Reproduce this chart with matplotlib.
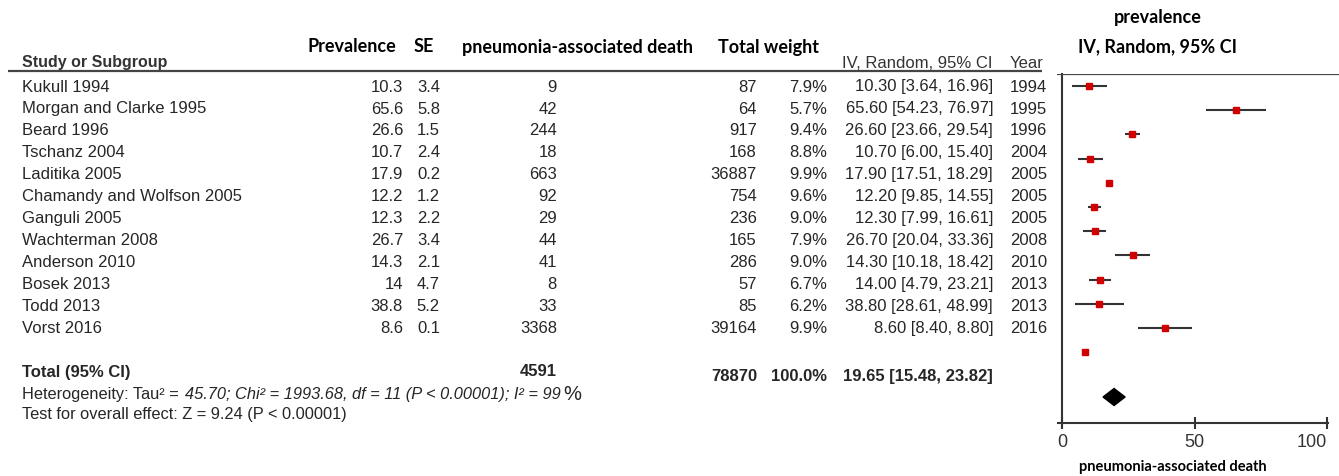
import matplotlib
matplotlib.use("Agg")
import matplotlib.pyplot as plt
from matplotlib.patches import Polygon

# ---------------- data ----------------
studies = ["Kukull 1994", "Morgan and Clarke 1995", "Beard 1996", "Tschanz 2004",
           "Laditika 2005", "Chamandy and Wolfson 2005", "Ganguli 2005",
           "Wachterman 2008", "Anderson 2010", "Bosek 2013", "Todd 2013", "Vorst 2016"]
prevalence = [10.3, 65.6, 26.6, 10.7, 17.9, 12.2, 12.3, 26.7, 14.3, 14, 38.8, 8.6]
se = [3.4, 5.8, 1.5, 2.4, 0.2, 1.2, 2.2, 3.4, 2.1, 4.7, 5.2, 0.1]
deaths = [9, 42, 244, 18, 663, 92, 29, 44, 41, 8, 33, 3368]
totals = [87, 64, 917, 168, 36887, 754, 236, 165, 286, 57, 85, 39164]
weights = [7.9, 5.7, 9.4, 8.8, 9.9, 9.6, 9.0, 7.9, 9.0, 6.7, 6.2, 9.9]
ci_low = [3.64, 54.23, 23.66, 6.00, 17.51, 9.85, 7.99, 20.04, 10.18, 4.79, 28.61, 8.40]
ci_high = [16.96, 76.97, 29.54, 15.40, 18.29, 14.55, 16.61, 33.36, 18.42, 23.21, 48.99, 8.80]
years = [1994, 1995, 1996, 2004, 2005, 2005, 2005, 2008, 2010, 2013, 2013, 2016]
total_deaths = 4591
total_n = 78870
total_weight = 100.0
pooled, pooled_low, pooled_high = 19.65, 15.48, 23.82
x_ticks = [0, 50, 100]

# ---------------- figure ----------------
W, H = 1339, 477
fig = plt.figure(figsize=(W / 100, H / 100), dpi=100)
tx = fig.add_axes([0, 0, 1, 1])
tx.set_xlim(0, W)
tx.set_ylim(H, 0)
tx.axis("off")

ROW_FONT = "Liberation Sans"
HEAD_FONT = "Lato"
txt_col = "#262626"
fs = 12

# headers
tx.text(22, 63, "Study or Subgroup", fontsize=11.5, fontweight="bold", family=ROW_FONT,
        color="#333333", va="center", ha="left")
hdr_kw = dict(fontsize=13, fontweight="bold", family=HEAD_FONT, color="black", va="center")
tx.text(352, 47, "Prevalence", ha="center", **hdr_kw)
tx.text(424, 47, "SE", ha="center", **hdr_kw)
tx.text(578, 47, "pneumonia-associated death", ha="center", **hdr_kw)
tx.text(768, 47, "Total weight", ha="center", **hdr_kw)
tx.text(917, 64, "IV, Random, 95% CI", ha="center", fontsize=12, family=ROW_FONT,
        color="#333333", va="center")
tx.text(1027, 64, "Year", ha="center", fontsize=12, family=ROW_FONT,
        color="#333333", va="center")
tx.text(1158, 18, "prevalence", ha="center", **hdr_kw)
tx.text(1158, 47, "IV, Random, 95% CI", ha="center", **hdr_kw)

# header rule
tx.plot([8, 1042], [72, 72], color="#444444", lw=1.6, solid_capstyle="butt")

# table rows
row0, dy = 87, 22.0
for i, name in enumerate(studies):
    y = row0 + dy * i
    kw = dict(fontsize=fs, family=ROW_FONT, color=txt_col, va="center")
    tx.text(22, y, name, ha="left", **kw)
    tx.text(403, y, f"{prevalence[i]:g}", ha="right", **kw)
    tx.text(440, y, f"{se[i]:g}", ha="right", **kw)
    tx.text(557, y, f"{deaths[i]}", ha="right", **kw)
    tx.text(757, y, f"{totals[i]}", ha="right", **kw)
    tx.text(827, y, f"{weights[i]:.1f}%", ha="right", **kw)
    tx.text(993, y, f"{prevalence[i]:.2f} [{ci_low[i]:.2f}, {ci_high[i]:.2f}]", ha="right", **kw)
    tx.text(1047, y, f"{years[i]}", ha="right", **kw)

# total row
bkw = dict(fontsize=12, family=ROW_FONT, fontweight="bold", color=txt_col, va="center")
tx.text(22, 373, "Total (95% CI)", ha="left", **bkw)
tx.text(557, 372, f"{total_deaths}", ha="right", **bkw)
tx.text(757, 377, f"{total_n}", ha="right", **bkw)
tx.text(827, 377, f"{total_weight:.1f}%", ha="right", **bkw)
tx.text(993, 377, f"{pooled:.2f} [{pooled_low:.2f}, {pooled_high:.2f}]", ha="right", **bkw)

# heterogeneity line built from pieces
fig.canvas.draw()
renderer = fig.canvas.get_renderer()
pieces = [("Heterogeneity: Tau² = ", "normal", 11.8),
          ("45.70; Chi² = 1993.68, df = 11 (P < 0.00001); I² = 99", "italic", 11.8),
          ("%", "normal", 14.5)]
xcur = 22
for s, style, size in pieces:
    t = tx.text(xcur, 395, s, fontsize=size, style=style, family=ROW_FONT, color=txt_col,
                va="center", ha="left")
    bb = t.get_window_extent(renderer)
    xcur += bb.width + 2
tx.text(22, 415, "Test for overall effect: Z = 9.24 (P < 0.00001)", fontsize=11.8,
        family=ROW_FONT, color=txt_col, va="center", ha="left")

# ---------------- forest plot ----------------
px_left, px_right = 1057, 1339
px_top, px_bot = 75, 424
ax = fig.add_axes([px_left / W, 1 - px_bot / H, (px_right - px_left) / W, (px_bot - px_top) / H])
ax.patch.set_alpha(0)
unit = 2.65  # px per data unit
x0_px = 1062
ax.set_xlim((px_left - x0_px) / unit, (px_right - x0_px) / unit)
prow0, pdy = 87, 24.2
ax.set_ylim((px_bot - prow0) / pdy, (px_top - prow0) / pdy)

for i in range(len(studies)):
    ax.plot([ci_low[i], ci_high[i]], [i, i], color="#333333", lw=1.5, solid_capstyle="butt", zorder=2)
    ax.plot(prevalence[i], i, marker="s", color="#d10000", ms=2 + weights[i] * 0.3,
            mec="#d10000", zorder=3)

yd = (398 - prow0) / pdy
hh = 8.5 / pdy
ax.add_patch(Polygon([[pooled_low, yd], [pooled, yd - hh], [pooled_high, yd], [pooled, yd + hh]],
                     closed=True, color="black", zorder=3))

for s in ["left", "right", "top"]:
    ax.spines[s].set_visible(False)
ax.spines["bottom"].set_color("#333333")
ax.spines["bottom"].set_linewidth(1.5)
ax.spines["bottom"].set_bounds(-1.5, 100.2)
ax.axvline(0, ymin=-0.01, ymax=1, color="#333333", lw=1.5, clip_on=False)
ax.axhline((px_top - prow0) / pdy, color="#444444", lw=1.6)
ax.set_xticks(x_ticks)
ax.set_xticklabels([str(v) for v in x_ticks])
ax.tick_params(axis="x", direction="inout", length=9, width=1.5, color="#333333",
               labelsize=13, labelcolor="#333333", pad=3)
for lab in ax.get_xticklabels():
    lab.set_fontfamily(ROW_FONT)
ax.get_xticklabels()[-1].set_ha("right")
ax.set_yticks([])

tx.text(1173, 467, "pneumonia-associated death", fontsize=10.5, fontweight="bold",
        family=HEAD_FONT, color="black", ha="center", va="center")

fig.savefig("out.png", dpi=100)
